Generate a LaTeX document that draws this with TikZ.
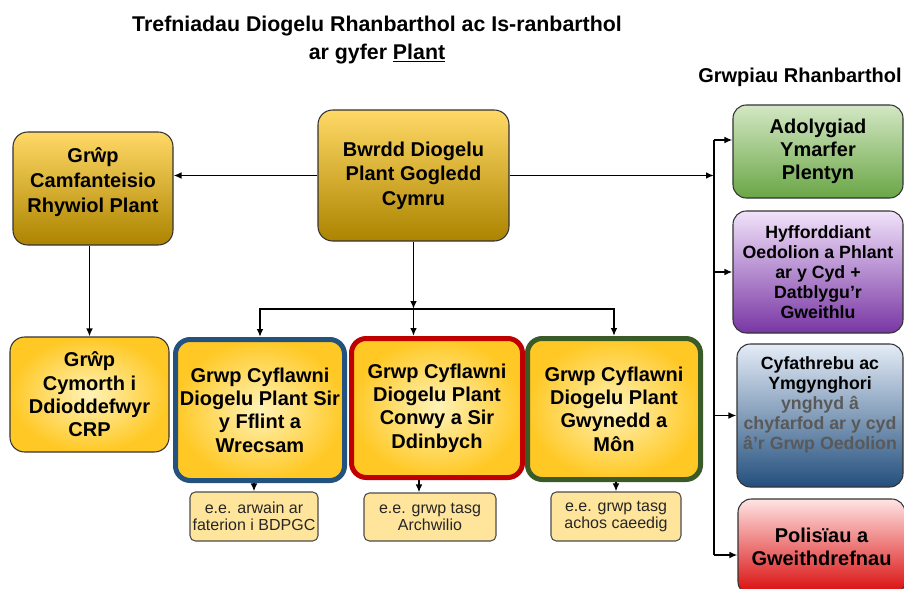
\documentclass[tikz,border=0pt]{standalone}
\usepackage{fontspec}
\setmainfont{Liberation Sans}
\usetikzlibrary{arrows.meta}

\definecolor{goldtop}{HTML}{FFD966}
\definecolor{goldmid}{HTML}{FFC000}
\definecolor{goldbot}{HTML}{AC8400}
\definecolor{paleinner}{HTML}{FFF3B8}
\definecolor{paleouter}{HTML}{FFC824}
\definecolor{subfill}{HTML}{FFE59C}
\definecolor{fflintline}{HTML}{24527F}
\definecolor{conwyline}{HTML}{C00000}
\definecolor{gwyneddline}{HTML}{3A5A27}
\definecolor{adoltop}{HTML}{D3E7C4}
\definecolor{adolbot}{HTML}{6AA646}
\definecolor{hyfftop}{HTML}{F1E2FA}
\definecolor{hyffbot}{HTML}{7836A4}
\definecolor{cyfatop}{HTML}{E4ECF7}
\definecolor{cyfabot}{HTML}{234F7D}
\definecolor{politop}{HTML}{FFE4E4}
\definecolor{polibot}{HTML}{D90808}
\definecolor{graytext}{HTML}{595959}

\tikzset{
  heading/.style={align=center, font=\bfseries\fontsize{16}{21}\selectfont},
  box/.style={draw=black!80, line width=0.8pt, rounded corners=11pt, align=center, inner sep=2pt},
  gold/.style={box, top color=goldtop, middle color=goldmid, bottom color=goldbot,
    font=\bfseries\fontsize{15}{18.5}\selectfont},
  pale/.style={box, inner color=paleinner, outer color=paleouter,
    font=\bfseries\fontsize{15}{17.5}\selectfont},
  subbox/.style={draw=black!70, line width=0.8pt, fill=subfill, rounded corners=4pt,
    align=center, inner sep=1pt, text=black!85, font=\fontsize{12}{12.8}\selectfont},
  sidebox/.style={box, rounded corners=10pt, font=\bfseries\fontsize{15}{17.3}\selectfont},
  conn/.style={line width=1.4pt, black}
}

\begin{document}
\begin{tikzpicture}[x=0.75pt,y=-0.75pt,>={Latex[length=6pt,width=5pt]}]
    \useasboundingbox (0,0) rectangle (904,589);

    % Titel
    \node[heading] (title) at (377,40) {Trefniadau Diogelu Rhanbarthol ac Is-ranbarthol\\ar gyfer \underline{Plant}};
    \node[heading, font=\bfseries\fontsize{15}{18}\selectfont] (rhanb) at (800,77) {Grwpiau Rhanbarthol};

    % Bwrdd und Gruppe links
    \node[gold, minimum width=143.25pt, minimum height=98.25pt] (bwrdd) at (413.5,175.5) {Bwrdd Diogelu\\Plant Gogledd\\Cymru};
    \node[gold, minimum width=120pt, minimum height=84.75pt] (camf) at (93,188.5) {Grŵp\\Camfanteisio\\Rhywiol Plant\\[-6pt]};

    % Untere Reihe
    \node[pale, minimum width=119.25pt, minimum height=86.25pt] (crp) at (89.5,394.5) {Grŵp\\Cymorth i\\Ddioddefwyr\\CRP};
    \node[pale, draw=fflintline, line width=3.75pt, minimum width=126.75pt, minimum height=105.75pt] (fflint) at (260,410) {Grwp Cyflawni\\Diogelu Plant Sir\\y Fflint a\\Wrecsam};
    \node[pale, draw=conwyline, line width=3.75pt, minimum width=128.25pt, minimum height=104.25pt] (conwy) at (437,408) {Grwp Cyflawni\\Diogelu Plant\\Conwy a Sir\\Ddinbych};
    \node[pale, draw=gwyneddline, line width=3.75pt, minimum width=129.75pt, minimum height=105.75pt] (gwynedd) at (614,409) {Grwp Cyflawni\\Diogelu Plant\\Gwynedd a\\Môn};

    % Beispiele
    \node[subbox, minimum width=96pt, minimum height=36.75pt] (sub1) at (254,516.5) {e.e. arwain ar\\faterion i BDPGC};
    \node[subbox, minimum width=99pt, minimum height=36pt] (sub2) at (430,517) {e.e. grwp tasg\\Archwilio};
    \node[subbox, minimum width=97.5pt, minimum height=36.75pt] (sub3) at (616,516.5) {e.e. grwp tasg\\achos caeedig};

    % Grwpiau Rhanbarthol
    \node[sidebox, top color=adoltop, bottom color=adolbot, minimum width=127.5pt, minimum height=69.75pt] (adoly) at (818,151.5) {Adolygiad\\Ymarfer\\Plentyn};
    \node[sidebox, top color=hyfftop, bottom color=hyffbot, minimum width=127.5pt, minimum height=91.5pt,
      font=\bfseries\fontsize{13.3}{15}\selectfont] (hyff) at (818,272) {Hyfforddiant\\Oedolion a Phlant\\ar y Cyd +\\Datblygu’r\\Gweithlu};
    \node[sidebox, top color=cyfatop, bottom color=cyfabot, minimum width=124.5pt, minimum height=107.25pt,
      font=\bfseries\fontsize{13.3}{15}\selectfont] (cyfa) at (820,415.5) {Cyfathrebu ac\\Ymgynghori\\\textcolor{graytext}{ynghyd â}\\\textcolor{graytext}{chyfarfod ar y cyd}\\\textcolor{graytext}{â’r Grwp Oedolion}\\[4pt]};
    \node[sidebox, top color=politop, bottom color=polibot, minimum width=125.25pt, minimum height=72pt] (poli) at (821.5,547) {Polisïau a\\Gweithdrefnau};

    % Pfeile
    \coordinate (split) at (413.5,309);
    \coordinate (tap) at (419,0);
    \coordinate (bus) at (714,140);
    \coordinate (busend) at (714,555);
    \draw[conn,->] (bwrdd.west) -- (bwrdd.west -| camf.east);
    \draw[conn,->] (camf.south -| crp.north) -- (crp.north);
    \draw[conn,->] (bwrdd.south) -- (split);
    \draw[conn,->] (split) -- (split |- conwy.north);
    \draw[conn,<->] (fflint.north) |- (split) -| (gwynedd.north);
    \draw[conn,->] (fflint.south -| sub1.north) -- (sub1.north);
    \draw[conn,->] (conwy.south -| tap) -- (sub2.north -| tap);
    \draw[conn,->] (gwynedd.south -| sub3.north) -- (sub3.north);

    \draw[conn] (bus) -- (busend);
    \draw[conn,->] (bwrdd.east) -- (bwrdd.east -| bus);
    \draw[conn,->] (bus) -- (bus -| adoly.west);
    \draw[conn,->] (bus |- hyff.west) -- (hyff.west);
    \draw[conn,->] (bus |- cyfa.west) -- (cyfa.west);
    \draw[conn,->] (busend) -- (busend -| poli.west);
\end{tikzpicture}
\end{document}
